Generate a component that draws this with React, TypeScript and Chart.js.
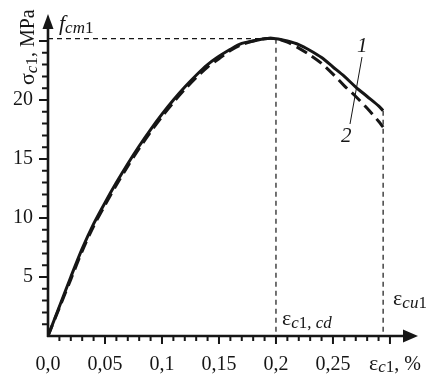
import React, { useEffect, useRef } from 'react';
import { Chart, registerables } from 'chart.js';

Chart.register(...registerables);

// ---- data (strain in %, stress in MPa) ----
const strain1 = [0, 0.01, 0.02, 0.03, 0.04, 0.05, 0.06, 0.07, 0.08, 0.09, 0.10, 0.11, 0.12, 0.13, 0.14, 0.15, 0.16, 0.17, 0.18, 0.19, 0.20, 0.21, 0.22, 0.23, 0.24, 0.25, 0.26, 0.27, 0.28, 0.29, 0.294];
const stress1 = [0, 2.5, 5.0, 7.4, 9.5, 11.3, 13.0, 14.6, 16.1, 17.5, 18.8, 20.0, 21.1, 22.1, 23.0, 23.7, 24.3, 24.8, 25.0, 25.2, 25.2, 25.0, 24.7, 24.2, 23.6, 22.8, 22.0, 21.1, 20.3, 19.5, 19.1];
const strain2 = [0, 0.01, 0.02, 0.03, 0.04, 0.05, 0.06, 0.07, 0.08, 0.09, 0.10, 0.11, 0.12, 0.13, 0.14, 0.15, 0.16, 0.17, 0.18, 0.19, 0.20, 0.21, 0.22, 0.23, 0.24, 0.25, 0.26, 0.27, 0.28, 0.29, 0.294];
const stress2 = [0, 2.4, 4.8, 7.2, 9.3, 11.1, 12.8, 14.4, 15.9, 17.3, 18.6, 19.8, 20.9, 21.9, 22.8, 23.5, 24.2, 24.7, 25.0, 25.2, 25.2, 24.9, 24.4, 23.8, 23.1, 22.2, 21.2, 20.3, 19.3, 18.2, 17.7];

const xTickValues = [0, 0.05, 0.1, 0.15, 0.2, 0.25];
const xTickLabels = ['0,0', '0,05', '0,1', '0,15', '0,2', '0,25'];
const yTickValues = [5, 10, 15, 20];
const yTickLabels = ['5', '10', '15', '20'];

const peakStrain = 0.2;
const peakStress = 25.2;
const ultimateStrain = 0.294;
const ultimateStress = 19.1;

const X_MAX = 0.3246;
const Y_MAX = 27.29;

const INK = '#161616';
const SERIF = "'Liberation Serif'";

type Part = { t: string; size: number; italic?: boolean; dy?: number };

function drawRich(ctx: CanvasRenderingContext2D, x: number, y: number, parts: Part[]) {
  let cx = x;
  for (const p of parts) {
    ctx.font = `${p.italic ? 'italic ' : ''}${p.size}px ${SERIF}`;
    ctx.fillText(p.t, cx, y + (p.dy || 0));
    cx += ctx.measureText(p.t).width;
  }
}

const decorPlugin = {
  id: 'decor',
  beforeDatasetsDraw(chart: any) {
    const ctx: CanvasRenderingContext2D = chart.ctx;
    const xs = chart.scales.x;
    const ys = chart.scales.y;
    ctx.save();
    ctx.strokeStyle = INK;
    ctx.lineWidth = 1.2;
    ctx.setLineDash([5, 4]);
    ctx.beginPath();
    ctx.moveTo(xs.getPixelForValue(0), ys.getPixelForValue(peakStress));
    ctx.lineTo(xs.getPixelForValue(peakStrain), ys.getPixelForValue(peakStress));
    ctx.moveTo(xs.getPixelForValue(peakStrain), ys.getPixelForValue(peakStress));
    ctx.lineTo(xs.getPixelForValue(peakStrain), ys.getPixelForValue(0));
    ctx.moveTo(xs.getPixelForValue(ultimateStrain), ys.getPixelForValue(ultimateStress));
    ctx.lineTo(xs.getPixelForValue(ultimateStrain), ys.getPixelForValue(0));
    ctx.stroke();
    ctx.restore();
  },
  afterDatasetsDraw(chart: any) {
    const ctx: CanvasRenderingContext2D = chart.ctx;
    const xs = chart.scales.x;
    const ys = chart.scales.y;
    const x0 = xs.getPixelForValue(0);
    const y0 = ys.getPixelForValue(0);
    const xTip = xs.getPixelForValue(X_MAX);
    const yTip = ys.getPixelForValue(Y_MAX);
    ctx.save();
    ctx.strokeStyle = INK;
    ctx.fillStyle = INK;
    ctx.setLineDash([]);
    ctx.lineWidth = 2.6;
    ctx.beginPath();
    ctx.moveTo(x0 - 1, y0);
    ctx.lineTo(xTip - 12, y0);
    ctx.moveTo(x0, y0 + 1);
    ctx.lineTo(x0, yTip + 12);
    ctx.stroke();
    ctx.beginPath();
    ctx.moveTo(xTip, y0);
    ctx.lineTo(xTip - 15, y0 - 6.5);
    ctx.lineTo(xTip - 15, y0 + 6.5);
    ctx.closePath();
    ctx.fill();
    ctx.beginPath();
    ctx.moveTo(x0, yTip);
    ctx.lineTo(x0 - 5.5, yTip + 15);
    ctx.lineTo(x0 + 5.5, yTip + 15);
    ctx.closePath();
    ctx.fill();
    ctx.lineWidth = 2;
    ctx.beginPath();
    for (let i = 1; i <= 30; i++) {
      const px = xs.getPixelForValue(i / 100);
      const len = i % 5 === 0 ? 8 : 5;
      ctx.moveTo(px, y0);
      ctx.lineTo(px, y0 + len);
    }
    for (let i = 1; i <= 25; i++) {
      const py = ys.getPixelForValue(i);
      const len = i % 5 === 0 ? 9 : 6;
      ctx.moveTo(x0, py);
      ctx.lineTo(x0 - len, py);
    }
    ctx.stroke();

    ctx.textAlign = 'left';
    ctx.textBaseline = 'alphabetic';
    ctx.fillStyle = INK;
    drawRich(ctx, 59, 30, [
      { t: 'f', size: 22, italic: true },
      { t: 'cm', size: 17, italic: true, dy: 3 },
      { t: '1', size: 17, dy: 3 },
    ]);
    drawRich(ctx, xs.getPixelForValue(peakStrain) + 6, 325, [
      { t: 'ε', size: 22 },
      { t: 'c', size: 17, italic: true, dy: 3 },
      { t: '1, ', size: 17, dy: 3 },
      { t: 'cd', size: 17, italic: true, dy: 3 },
    ]);
    drawRich(ctx, xs.getPixelForValue(ultimateStrain) + 10, 305, [
      { t: 'ε', size: 22 },
      { t: 'cu', size: 17, italic: true, dy: 3 },
      { t: '1', size: 17, dy: 3 },
    ]);
    drawRich(ctx, 369, 370, [
      { t: 'ε', size: 22 },
      { t: 'c', size: 17, italic: true, dy: 2 },
      { t: '1', size: 17, dy: 2 },
      { t: ', %', size: 20 },
    ]);
    ctx.font = `italic 21px ${SERIF}`;
    ctx.fillText('1', 357, 52);
    ctx.fillText('2', 341, 142);
    ctx.lineWidth = 1;
    ctx.beginPath();
    ctx.moveTo(362, 57);
    ctx.lineTo(350, 124);
    ctx.stroke();

    ctx.save();
    ctx.translate(34, 85);
    ctx.rotate(-Math.PI / 2);
    drawRich(ctx, 0, 0, [
      { t: 'σ', size: 22 },
      { t: 'c', size: 17, italic: true, dy: 3 },
      { t: '1', size: 17, dy: 3 },
      { t: ', MPa', size: 20 },
    ]);
    ctx.restore();
    ctx.restore();
  },
};

function findLabel(v: number, values: number[], labels: string[]) {
  for (let i = 0; i < values.length; i++) {
    if (Math.abs(values[i] - v) < 1e-6) return labels[i];
  }
  return '';
}

function zeroPads(s: any) {
  s.paddingTop = 0;
  s.paddingBottom = 0;
  s.paddingLeft = 0;
  s.paddingRight = 0;
}

export default function App() {
  const ref = useRef<HTMLCanvasElement | null>(null);
  useEffect(() => {
    if (!ref.current) return;
    let chart: any = null;
    let cancelled = false;
    const build = () => {
      if (cancelled || !ref.current) return;
      chart = new Chart(ref.current, {
        type: 'scatter',
        data: {
          datasets: [
            {
              label: '1',
              data: strain1.map((x, i) => ({ x, y: stress1[i] })),
              showLine: true,
              borderColor: INK,
              borderWidth: 3,
              pointRadius: 0,
              tension: 0.3,
            },
            {
              label: '2',
              data: strain2.map((x, i) => ({ x, y: stress2[i] })),
              showLine: true,
              borderColor: INK,
              borderWidth: 3,
              borderDash: [12, 6],
              pointRadius: 0,
              tension: 0.3,
            },
          ],
        },
        options: {
          animation: false,
          responsive: false,
          devicePixelRatio: 1,
          layout: { padding: { top: 14, right: 9, left: 0, bottom: 0 } },
          plugins: { legend: { display: false }, tooltip: { enabled: false } },
          scales: {
            x: {
              type: 'linear',
              min: 0,
              max: X_MAX,
              border: { display: false },
              grid: { display: false, drawTicks: false },
              afterFit: (s: any) => { s.height = 40; zeroPads(s); },
              ticks: {
                stepSize: 0.05,
                autoSkip: false,
                maxRotation: 0,
                padding: 17,
                color: INK,
                font: { family: SERIF, size: 20 },
                callback: (v: any) => findLabel(Number(v), xTickValues, xTickLabels),
              },
            },
            y: {
              type: 'linear',
              min: 0,
              max: Y_MAX,
              border: { display: false },
              grid: { display: false, drawTicks: false },
              afterFit: (s: any) => { s.width = 48; zeroPads(s); },
              ticks: {
                stepSize: 5,
                autoSkip: false,
                padding: 15,
                color: INK,
                font: { family: SERIF, size: 20 },
                callback: (v: any) => findLabel(Number(v), yTickValues, yTickLabels),
              },
            },
          },
        },
        plugins: [decorPlugin],
      } as any);
    };
    const fonts: any = (document as any).fonts;
    if (fonts && fonts.load) {
      Promise.all([
        fonts.load("20px 'Liberation Serif'"),
        fonts.load("italic 20px 'Liberation Serif'"),
      ]).then(build, build);
    } else {
      build();
    }
    return () => {
      cancelled = true;
      if (chart) chart.destroy();
    };
  }, []);
  return (
    <div style={{ position: 'absolute', left: 0, top: 0, width: 427, height: 376, background: '#fff' }}>
      <canvas ref={ref} width={427} height={376} style={{ display: 'block' }} />
    </div>
  );
}
